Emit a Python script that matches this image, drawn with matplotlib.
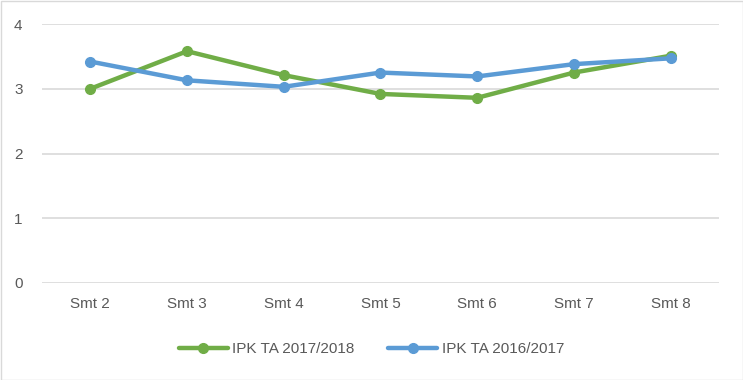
import matplotlib.pyplot as plt
import matplotlib.patches as mpatches

categories = ["Smt 2", "Smt 3", "Smt 4", "Smt 5", "Smt 6", "Smt 7", "Smt 8"]
ipk_2017_2018 = [3.00, 3.58, 3.21, 2.92, 2.86, 3.25, 3.51]
ipk_2016_2017 = [3.42, 3.13, 3.03, 3.25, 3.19, 3.38, 3.47]
yticks = [0, 1, 2, 3, 4]

plt.rcParams['font.family'] = ['Liberation Sans Narrow', 'Liberation Sans', 'DejaVu Sans']

fig = plt.figure(figsize=(7.43, 3.8), dpi=100)
ax = fig.add_axes([42/743, 1-283/380, 677/743, 259/380])

x = range(len(categories))
ax.plot(x, ipk_2017_2018, color="#70AD47", lw=3.2, marker='o', ms=7,
        label="IPK TA 2017/2018", solid_capstyle='round')
ax.plot(x, ipk_2016_2017, color="#5B9BD5", lw=3.2, marker='o', ms=7,
        label="IPK TA 2016/2017", solid_capstyle='round')

ax.set_xlim(-0.5, len(categories) - 0.5)
ax.set_ylim(0, 4)
ax.set_yticks(yticks)
ax.set_xticks(list(x))
ax.set_xticklabels(categories)
ax.grid(axis='y', color="#D9D9D9", lw=1.2)
ax.set_axisbelow(True)
for s in ax.spines.values():
    s.set_visible(False)
ax.tick_params(length=0, labelsize=11, colors="#595959", pad=10)
ax.tick_params(axis='y', pad=14)

fig.legend(loc='center', bbox_to_anchor=(0.5, 1-349/380), ncol=2, frameon=False,
           fontsize=11, labelcolor="#595959", handlelength=3.2, handletextpad=0.3,
           columnspacing=2.2)

fig.patches.append(mpatches.Rectangle((0.5/743, 0.5/380), 1-1/743, 1-1/380,
                                      transform=fig.transFigure, fill=False,
                                      edgecolor="#D9D9D9", lw=1))

fig.savefig("out.png", dpi=100)
